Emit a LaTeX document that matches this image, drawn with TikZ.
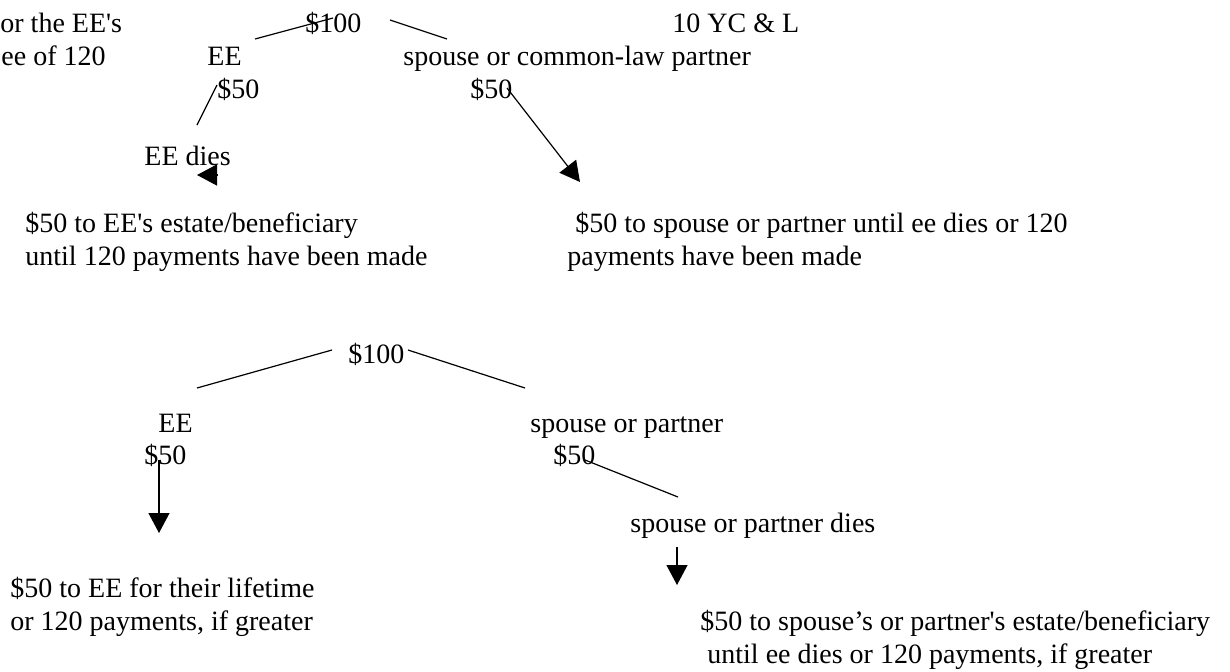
\documentclass[tikz,border=0pt]{standalone}
\usepackage{fontspec}
\setmainfont{Liberation Serif}
\usetikzlibrary{arrows.meta}
\newcommand{\sq}{\textquotesingle}

\begin{document}
\begin{tikzpicture}[x=0.5pt,y=-0.5pt]
    \useasboundingbox (0,0) rectangle (1230,671);

        \begin{scope}[every node/.style={anchor=base west,inner sep=0pt,font=\fontsize{14pt}{16.5pt}\selectfont}]
            % top tree
            \node (cut1) at (0,32) {or the EE\sq s};
            \node (cut2) at (1,65) {ee of 120};
            \node (top) at (305,32) {\$100};
            \node (yc) at (672,32) {10 YC \& L};
            \node (ee1) at (207,65) {EE};
            \node (sp1) at (403,65) {spouse or common-law partner};
            \node (ee1amt) at (217,98) {\$50};
            \node (sp1amt) at (470,98) {\$50};
            \node (eedies) at (144,165) {EE dies};
            \node (res1a) at (25,232) {\$50 to EE\sq s estate/beneficiary};
            \node (res1b) at (25,265) {until 120 payments have been made};
            \node (res2a) at (575,232) {\$50 to spouse or partner until ee dies or 120};
            \node (res2b) at (567,265) {payments have been made};

            % bottom tree
            \node (bot) at (348,363) {\$100};
            \node (ee2) at (158,432) {EE};
            \node (sp2) at (530,432) {spouse or partner};
            \node (ee2amt) at (144,464) {\$50};
            \node (sp2amt) at (553,464) {\$50};
            \node (spdies) at (630,532) {spouse or partner dies};
            \node (res3a) at (10,597) {\$50 to EE for their lifetime};
            \node (res3b) at (10,630) {or 120 payments, if greater};
            \node (res4a) at (700,630) {\$50 to spouse’s or partner\sq s estate/beneficiary};
            \node (res4b) at (707,663) {until ee dies or 120 payments, if greater};
        \end{scope}

        \begin{scope}[every path/.style={line width=0.6pt}, >={Triangle[length=10pt,width=10.5pt]}]
            \coordinate (t1) at (255,39);  \coordinate (t2) at (333,18);
            \coordinate (t3) at (390,20);  \coordinate (t4) at (447,39);
            \coordinate (t5) at (197,125); \coordinate (t6) at (217,85);
            \coordinate (h1) at (218,175); \coordinate (h2) at (197,175);
            \coordinate (t7) at (507,88);  \coordinate (t8) at (580,182);

            \coordinate (b1) at (197,388); \coordinate (b2) at (332,350);
            \coordinate (b3) at (408,350); \coordinate (b4) at (525,388);
            \coordinate (b5) at (159,460); \coordinate (b6) at (159,533);
            \coordinate (b7) at (585,460); \coordinate (b8) at (678,497);
            \coordinate (b9) at (677,547); \coordinate (b10) at (677,585);

            \draw (t1) -- (t2);
            \draw (t3) -- (t4);
            \draw (t5) -- (t6);
            \draw [->] (h1) -- (h2);
            \draw [->] (t7) -- (t8);

            \draw (b1) -- (b2);
            \draw (b3) -- (b4);
            \draw [->] (b5) -- (b6);
            \draw (b7) -- (b8);
            \draw [->] (b9) -- (b10);
        \end{scope}

\end{tikzpicture}
\end{document}
